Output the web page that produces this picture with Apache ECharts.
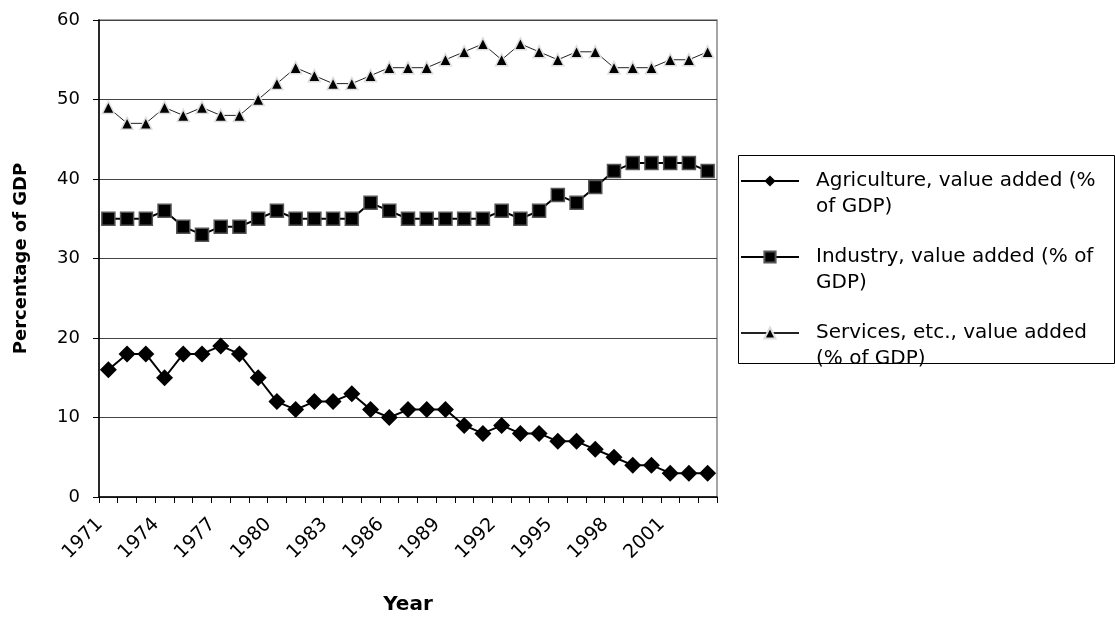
<!DOCTYPE html>
<html>
<head>
<meta charset="utf-8">
<script src="https://cdn.jsdelivr.net/npm/echarts@6/dist/echarts.min.js"></script>
<style>
  html, body { margin: 0; padding: 0; background: #fff; }
  #chart { width: 1115px; height: 620px; }
</style>
</head>
<body>
<div id="chart"></div>
<script>
// Years 1971–2003
const years = [];
for (let y = 1971; y <= 2003; y++) years.push(String(y));

const agriculture = [16, 18, 18, 15, 18, 18, 19, 18, 15, 12, 11, 12, 12, 13, 11, 10, 11,
  11, 11, 9, 8, 9, 8, 8, 7, 7, 6, 5, 4, 4, 3, 3, 3];
const industry = [35, 35, 35, 36, 34, 33, 34, 34, 35, 36, 35, 35, 35, 35, 37, 36, 35,
  35, 35, 35, 35, 36, 35, 36, 38, 37, 39, 41, 42, 42, 42, 42, 41];
const services = [49, 47, 47, 49, 48, 49, 48, 48, 50, 52, 54, 53, 52, 52, 53, 54, 54,
  54, 55, 56, 57, 55, 57, 56, 55, 56, 56, 54, 54, 54, 55, 55, 56];

const seriesNames = [
  'Agriculture, value added (% of GDP)',
  'Industry, value added (% of GDP)',
  'Services, etc., value added (% of GDP)'
];
// Legend text split over two lines
const legendLines = {
  'Agriculture, value added (% of GDP)': ['Agriculture, value added (%', 'of GDP)'],
  'Industry, value added (% of GDP)': ['Industry, value added (% of', 'GDP)'],
  'Services, etc., value added (% of GDP)': ['Services, etc., value added', '(% of GDP)']
};

const font = 'DejaVu Sans, Verdana, sans-serif';
const chart = echarts.init(document.getElementById('chart'), null, { renderer: 'canvas' });

chart.setOption({
  animation: false,
  backgroundColor: '#fff',
  grid: {
    left: 99, right: 398, top: 20, bottom: 121,
    show: true, borderColor: '#888', borderWidth: 1.5, backgroundColor: 'transparent'
  },
  // legend frame
  graphic: [{
    type: 'rect',
    left: 738, top: 155,
    shape: { width: 376, height: 208 },
    style: { fill: 'transparent', stroke: '#000', lineWidth: 1 },
    silent: true
  }],
  legend: {
    orient: 'vertical',
    left: 740, top: 142,
    padding: 0,
    itemWidth: 58, itemHeight: 14,
    itemGap: -2,
    data: seriesNames,
    // leading blank line keeps the icon level with the first text line
    formatter: name => '\n' + legendLines[name].join('\n'),
    textStyle: { fontFamily: font, fontSize: 20, color: '#000', lineHeight: 26, padding: [0, 0, 0, 12] }
  },
  xAxis: {
    type: 'category',
    data: years,
    boundaryGap: true,
    axisLine: { lineStyle: { color: '#000', width: 1.5 } },
    axisTick: { show: true, interval: 0, length: 6, lineStyle: { color: '#000' } },
    axisLabel: {
      interval: 2, rotate: 45, margin: 16, padding: [0, 12, 0, 0],
      fontFamily: font, fontSize: 19, color: '#000'
    },
    name: 'Year',
    nameLocation: 'middle',
    nameGap: 98,
    nameTextStyle: { fontFamily: font, fontSize: 20, fontWeight: 'bold', color: '#000' }
  },
  yAxis: {
    type: 'value',
    min: 0, max: 60, interval: 10,
    axisLine: { show: true, lineStyle: { color: '#000', width: 1.5 } },
    axisTick: { show: true, length: 6, lineStyle: { color: '#000' } },
    axisLabel: { fontFamily: font, fontSize: 18, color: '#000', margin: 19 },
    splitLine: { lineStyle: { color: '#444', width: 1 } },
    name: 'Percentage of GDP',
    nameLocation: 'middle',
    nameGap: 69,
    nameTextStyle: { fontFamily: font, fontSize: 18, fontWeight: 'bold', color: '#000' }
  },
  series: [
    {
      name: seriesNames[0], type: 'line', data: agriculture,
      symbol: 'diamond', symbolSize: 17, showAllSymbol: true,
      lineStyle: { color: '#000', width: 2 },
      itemStyle: { color: '#000' }
    },
    {
      name: seriesNames[1], type: 'line', data: industry,
      symbol: 'rect', symbolSize: 13, showAllSymbol: true,
      lineStyle: { color: '#000', width: 2 },
      itemStyle: { color: '#000', borderColor: '#555', borderWidth: 1.5 }
    },
    {
      name: seriesNames[2], type: 'line', data: services,
      symbol: 'triangle', symbolSize: 12, showAllSymbol: true,
      lineStyle: { color: '#222', width: 1 },
      itemStyle: { color: '#000', borderColor: '#ddd', borderWidth: 1.5 }
    }
  ]
});
</script>
</body>
</html>
